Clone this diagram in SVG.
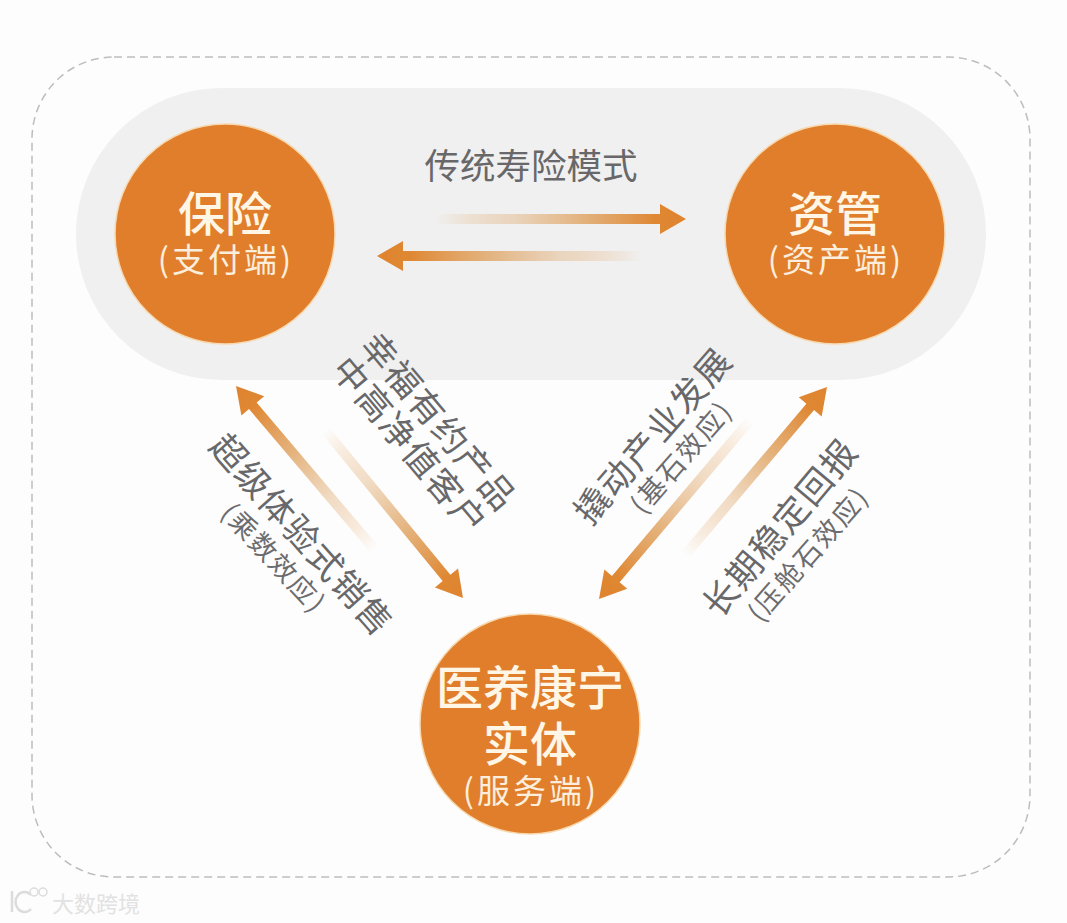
<svg xmlns="http://www.w3.org/2000/svg" width="1067" height="923" viewBox="0 0 1067 923">
<style>
text{font-family:"Noto Sans CJK SC","Liberation Sans",sans-serif;text-anchor:middle;dominant-baseline:central}
.t{font-size:47px;fill:#fff6e6;font-weight:500}
.s{font-size:33px;fill:#fbeedd;letter-spacing:3px}
.g{font-size:35px;fill:#68686a;letter-spacing:1.5px}
.m{font-size:27px;fill:#6c6c6e;letter-spacing:2px}
.c{fill:#e07e2c;stroke:#f7d9b0;stroke-width:1.5}
.a{fill:url(#fade)}
</style>
<defs>
<linearGradient id="fade" x1="0" y1="0" x2="1" y2="0">
<stop offset="0" stop-color="#e0882f" stop-opacity="0"/>
<stop offset="0.3" stop-color="#e0ad75" stop-opacity="0.4"/>
<stop offset="0.6" stop-color="#e0a565" stop-opacity="0.85"/>
<stop offset="0.88" stop-color="#df8732"/>
<stop offset="1" stop-color="#df8430"/>
</linearGradient>
</defs>
<rect width="1067" height="923" fill="#fdfdfd"/>
<rect x="32" y="57" width="998" height="820" rx="82" fill="#fdfdfd" stroke="#bdbdbd" stroke-width="1.5" stroke-dasharray="8 5"/>
<rect x="76" y="88" width="910" height="292" rx="146" fill="#f0f0f0"/>
<g id="connectors">
<polygon class="a" transform="translate(686 219)" points="-250,-5 -26,-5 -26,-15 0,0 -26,15 -26,5 -250,5"/>
<polygon class="a" transform="translate(377 256) rotate(180)" points="-265,-5 -26,-5 -26,-15 0,0 -26,15 -26,5 -265,5"/>
<polygon class="a" transform="translate(236 386) rotate(-130.3)" points="-215,-5 -26,-5 -26,-15 0,0 -26,15 -26,5 -215,5"/>
<polygon class="a" transform="translate(463 598) rotate(50.6)" points="-217,-5 -26,-5 -26,-15 0,0 -26,15 -26,5 -217,5"/>
<polygon class="a" transform="translate(599 599) rotate(130.2)" points="-234,-5 -26,-5 -26,-15 0,0 -26,15 -26,5 -234,5"/>
<polygon class="a" transform="translate(827 387) rotate(-49.8)" points="-220,-5 -26,-5 -26,-15 0,0 -26,15 -26,5 -220,5"/>
</g>
<g id="node-insurance">
<circle class="c" cx="225" cy="234" r="110"/>
<text class="t" x="225" y="210">保险</text>
<text class="s" x="226" y="258">(支付端)</text>
</g>
<g id="node-asset">
<circle class="c" cx="835" cy="234" r="110"/>
<text class="t" x="835" y="210">资管</text>
<text class="s" x="836" y="258">(资产端)</text>
</g>
<g id="node-health">
<circle class="c" cx="530" cy="724" r="110"/>
<text class="t" x="530" y="684">医养康宁</text>
<text class="t" x="530" y="740">实体</text>
<text class="s" x="531" y="789">(服务端)</text>
</g>
<g id="labels">
<text class="g" style="font-size:35.5px;letter-spacing:0" x="531" y="163">传统寿险模式</text>
<text class="g" transform="translate(441 420) rotate(50)">幸福有约产品</text>
<text class="g" transform="translate(412 444) rotate(50)">中高净值客户</text>
<text class="g" transform="translate(304 533) rotate(48.5)">超级体验式销售</text>
<text class="m" transform="translate(275 557) rotate(47)">(乘数效应)</text>
<text class="g" transform="translate(651 434) rotate(-49)">撬动产业发展</text>
<text class="m" transform="translate(680 456) rotate(-49)">(基石效应)</text>
<text class="g" transform="translate(778 526) rotate(-50)">长期稳定回报</text>
<text class="m" transform="translate(807 553) rotate(-49)">(压舱石效应)</text>
</g>
<g id="watermark">
<path d="M12 891V912M31 895a9 10 0 1 0 0 14" fill="none" stroke="#dcdcdc" stroke-width="2.5"/>
<circle cx="34" cy="892" r="4" fill="none" stroke="#dcdcdc" stroke-width="1.5"/>
<circle cx="43" cy="892" r="4" fill="none" stroke="#dcdcdc" stroke-width="1.5"/>
<text x="96" y="902" style="font-size:22px;fill:#e2e2e2">大数跨境</text>
</g>
</svg>
